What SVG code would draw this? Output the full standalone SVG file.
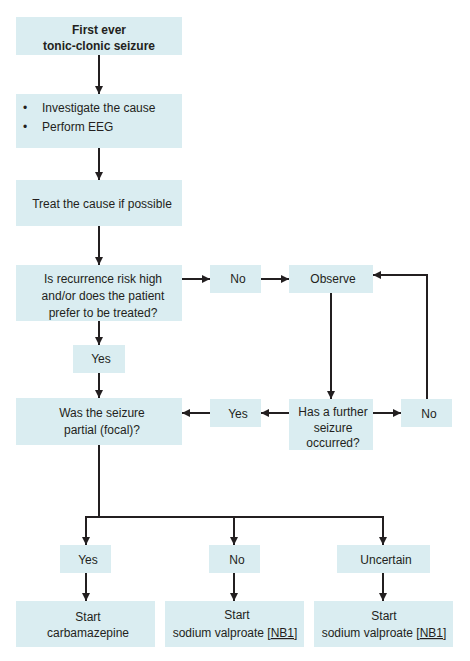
<svg xmlns="http://www.w3.org/2000/svg" width="470" height="661" viewBox="0 0 470 661">
<style>
.box{fill:#daedf1;}
.t{font-family:"Liberation Sans",Arial,sans-serif;font-size:12px;fill:#231f20;text-anchor:middle;}
.b{font-weight:bold;}
.l{text-anchor:start;}
.c{fill:none;stroke:#231f20;stroke-width:2;}
</style>
<defs>
<marker id="ah" viewBox="0 0 8 8" refX="8" refY="4" markerWidth="4" markerHeight="4" orient="auto" markerUnits="strokeWidth">
<path d="M0,0 L8,4 L0,8 z" fill="#231f20"/>
</marker>
</defs>
<rect width="470" height="661" fill="#ffffff"/>
<g id="connectors">
<path class="c" marker-end="url(#ah)" d="M99,55 V94"/>
<path class="c" marker-end="url(#ah)" d="M99,148 V180"/>
<path class="c" marker-end="url(#ah)" d="M99,226 V265"/>
<path class="c" marker-end="url(#ah)" d="M182,279 H210"/>
<path class="c" marker-end="url(#ah)" d="M261,279 H289"/>
<path class="c" marker-end="url(#ah)" d="M331,293 V399"/>
<path class="c" marker-end="url(#ah)" d="M289,413 H261"/>
<path class="c" marker-end="url(#ah)" d="M210,413 H182"/>
<path class="c" marker-end="url(#ah)" d="M373,413 H401"/>
<path class="c" marker-end="url(#ah)" d="M427,399 V275 H373"/>
<path class="c" marker-end="url(#ah)" d="M99,321 V345"/>
<path class="c" marker-end="url(#ah)" d="M99,373 V398"/>
<path class="c" d="M99,445 V517"/>
<path class="c" d="M85,517 H384"/>
<path class="c" marker-end="url(#ah)" d="M86,516 V545"/>
<path class="c" marker-end="url(#ah)" d="M234,516 V545"/>
<path class="c" marker-end="url(#ah)" d="M383,516 V545"/>
<path class="c" marker-end="url(#ah)" d="M86,573 V601"/>
<path class="c" marker-end="url(#ah)" d="M234,573 V601"/>
<path class="c" marker-end="url(#ah)" d="M383,573 V601"/>
</g>
<g id="n1"><rect class="box" x="16" y="17" width="166" height="38"/>
<text class="t b" x="99" y="34">First ever</text>
<text class="t b" x="99" y="50">tonic-clonic seizure</text></g>
<g id="n2"><rect class="box" x="16" y="94" width="166" height="54"/>
<text class="t l" x="23" y="112">•</text><text class="t l" x="42" y="112">Investigate the cause</text>
<text class="t l" x="23" y="131">•</text><text class="t l" x="42" y="131">Perform EEG</text></g>
<g id="n3"><rect class="box" x="16" y="180" width="166" height="46"/>
<text class="t" x="102" y="208">Treat the cause if possible</text></g>
<g id="n4"><rect class="box" x="16" y="265" width="166" height="56"/>
<text class="t" x="103" y="283">Is recurrence risk high</text>
<text class="t" x="103" y="300">and/or does the patient</text>
<text class="t" x="103" y="317">prefer to be treated?</text></g>
<g id="n5"><rect class="box" x="210" y="265" width="51" height="28"/>
<text class="t" x="238" y="283">No</text></g>
<g id="n6"><rect class="box" x="289" y="265" width="84" height="28"/>
<text class="t" x="333" y="283">Observe</text></g>
<g id="n7"><rect class="box" x="73" y="345" width="52" height="28"/>
<text class="t" x="101" y="363">Yes</text></g>
<g id="n8"><rect class="box" x="16" y="398" width="166" height="47"/>
<text class="t" x="102" y="417">Was the seizure</text>
<text class="t" x="102" y="434">partial (focal)?</text></g>
<g id="n9"><rect class="box" x="210" y="399" width="51" height="28"/>
<text class="t" x="238" y="418">Yes</text></g>
<g id="n10"><rect class="box" x="289" y="399" width="84" height="51"/>
<text class="t" x="333" y="416">Has a further</text>
<text class="t" x="333" y="432">seizure</text>
<text class="t" x="333" y="447">occurred?</text></g>
<g id="n11"><rect class="box" x="401" y="399" width="51" height="28"/>
<text class="t" x="429" y="418">No</text></g>
<g id="n12"><rect class="box" x="60" y="545" width="51" height="28"/>
<text class="t" x="88" y="564">Yes</text></g>
<g id="n13"><rect class="box" x="209" y="545" width="51" height="28"/>
<text class="t" x="237" y="564">No</text></g>
<g id="n14"><rect class="box" x="337" y="545" width="93" height="28"/>
<text class="t" x="386" y="564">Uncertain</text></g>
<g id="n15"><rect class="box" x="16" y="601" width="139" height="46"/>
<text class="t" x="88" y="621">Start</text>
<text class="t" x="88" y="637">carbamazepine</text></g>
<g id="n16"><rect class="box" x="165" y="601" width="139" height="46"/>
<text class="t" x="237" y="619">Start</text>
<text class="t" x="235" y="637">sodium valproate [<tspan text-decoration="underline">NB1</tspan>]</text></g>
<g id="n17"><rect class="box" x="314" y="601" width="139" height="46"/>
<text class="t" x="384" y="620">Start</text>
<text class="t" x="384" y="637">sodium valproate [<tspan text-decoration="underline">NB1</tspan>]</text></g>
</svg>
